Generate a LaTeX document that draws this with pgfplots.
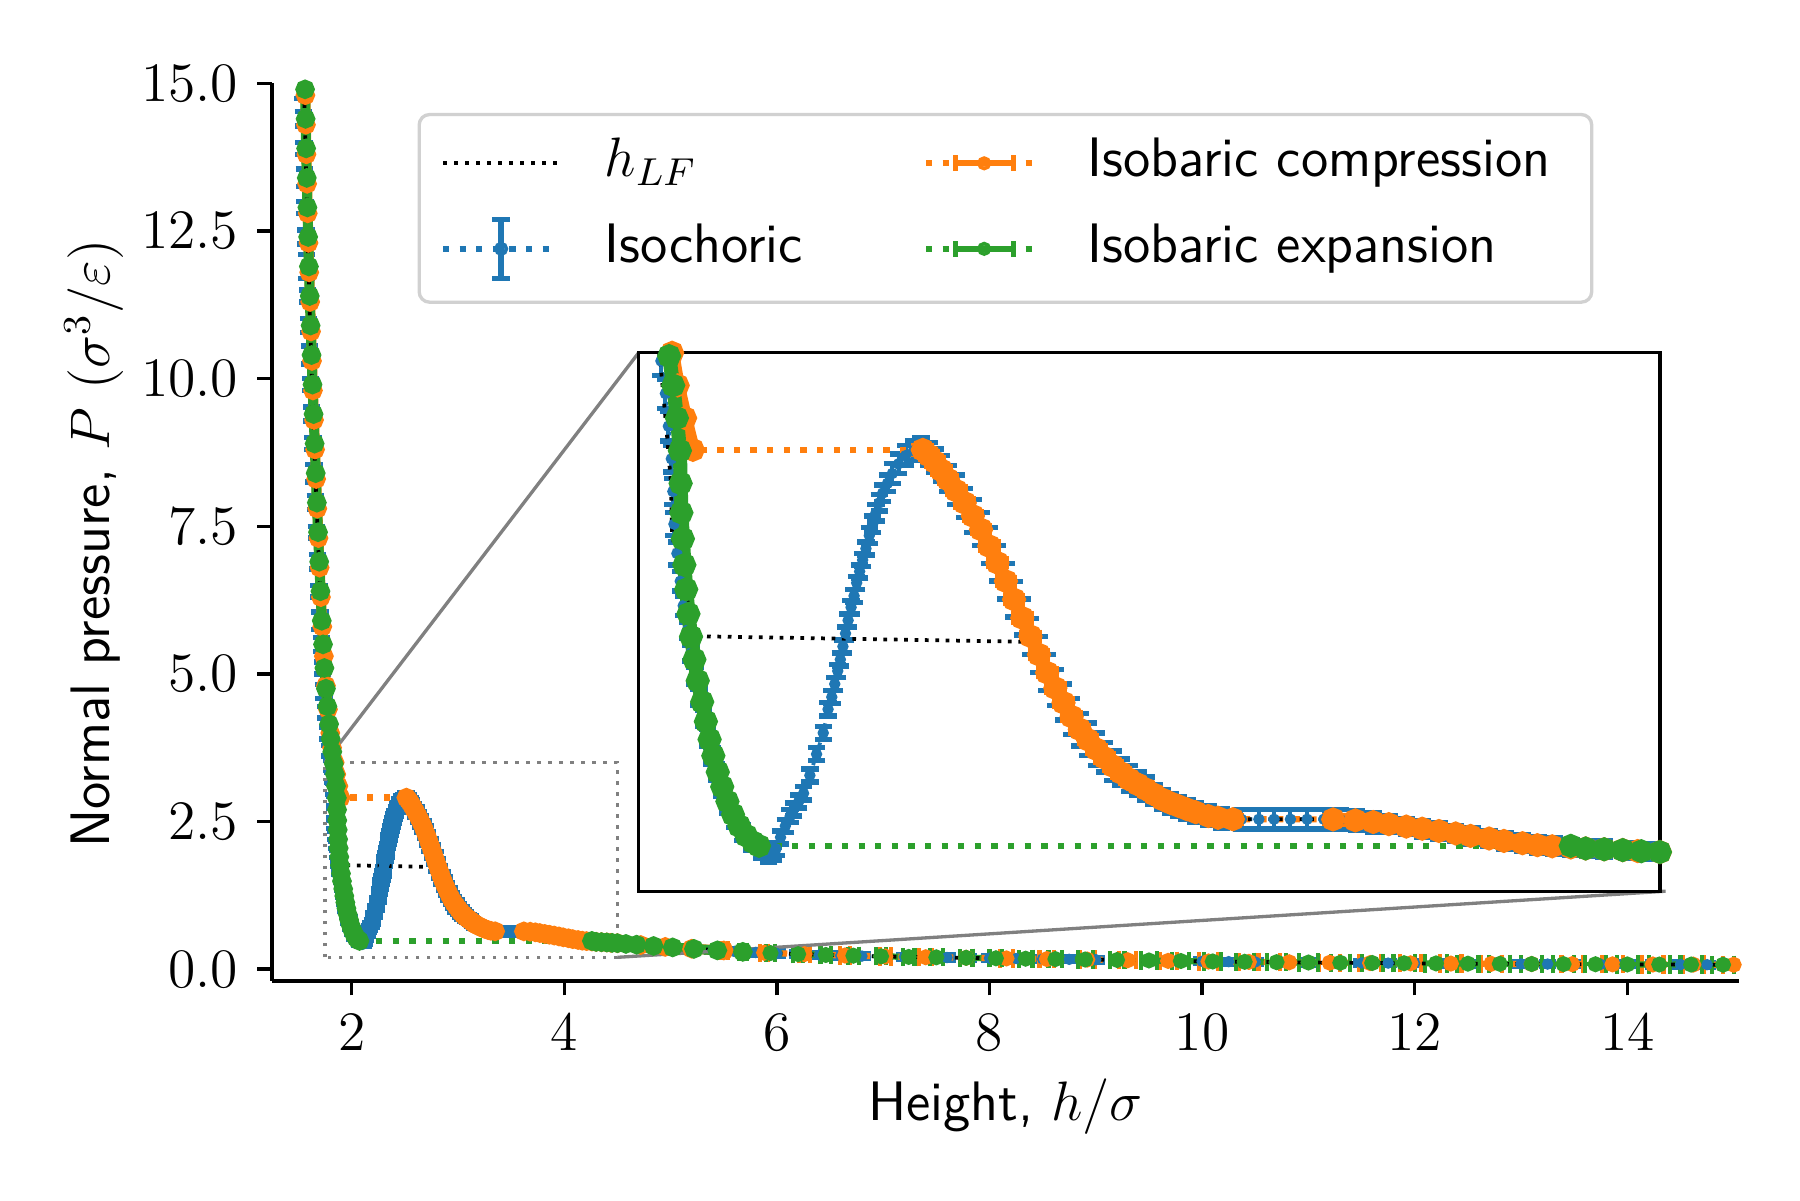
\RequirePackage{fix-cm}
\documentclass[border=0pt]{standalone}
\usepackage{pgfplots}
\pgfplotsset{compat=1.18}
\usepackage{pgfplotstable}
\definecolor{tabblue}{HTML}{1F77B4}
\definecolor{taborange}{HTML}{FF7F0E}
\definecolor{tabgreen}{HTML}{2CA02C}

% Isochoric (y errors)
\pgfplotstableread{
x y e
1.540 14.90 0.15
1.545 14.40 0.12
1.550 13.90 0.10
1.556 13.40 0.15
1.563 12.90 0.10
1.570 12.40 0.12
1.578 11.90 0.20
1.587 11.40 0.10
1.596 10.90 0.12
1.605 10.40 0.15
1.615 9.90 0.10
1.625 9.40 0.12
1.636 8.90 0.10
1.647 8.40 0.15
1.658 7.90 0.12
1.669 7.40 0.10
1.680 6.90 0.12
1.692 6.40 0.10
1.704 5.90 0.15
1.716 5.50 0.12
1.728 5.10 0.10
1.742 4.70 0.12
1.758 4.35 0.10
1.775 4.00 0.10
1.792 3.70 0.09
1.810 3.45 0.09
1.822 3.25 0.09
1.830 3.05 0.09
1.838 2.85 0.08
1.842 2.65 0.08
1.845 2.45 0.07
1.853 2.27 0.07
1.862 2.10 0.06
1.870 1.95 0.06
1.881 1.80 0.05
1.891 1.66 0.05
1.902 1.52 0.05
1.913 1.39 0.05
1.924 1.26 0.05
1.935 1.14 0.05
1.948 1.03 0.05
1.960 0.93 0.05
1.974 0.83 0.05
1.990 0.73 0.05
2.008 0.64 0.05
2.030 0.56 0.05
2.055 0.49 0.04
2.080 0.44 0.04
2.100 0.42 0.04
2.112 0.43 0.04
2.120 0.46 0.04
2.132 0.53 0.04
2.145 0.60 0.04
2.158 0.66 0.04
2.167 0.70 0.04
2.181 0.75 0.04
2.194 0.80 0.04
2.211 0.91 0.04
2.229 1.04 0.04
2.247 1.17 0.04
2.260 1.315 0.04
2.270 1.39 0.04
2.278 1.47 0.04
2.286 1.55 0.04
2.293 1.62 0.04
2.300 1.70 0.04
2.307 1.78 0.04
2.314 1.86 0.04
2.322 1.94 0.04
2.330 2.01 0.04
2.337 2.09 0.04
2.345 2.16 0.04
2.353 2.23 0.04
2.362 2.30 0.04
2.371 2.38 0.05
2.380 2.45 0.05
2.389 2.52 0.05
2.398 2.58 0.05
2.407 2.64 0.05
2.420 2.70 0.05
2.433 2.76 0.06
2.450 2.82 0.06
2.469 2.87 0.06
2.490 2.90 0.06
2.510 2.92 0.06
2.532 2.88 0.07
2.548 2.84 0.07
2.565 2.79 0.08
2.583 2.73 0.08
2.605 2.66 0.09
2.628 2.58 0.09
2.650 2.50 0.10
2.672 2.42 0.10
2.694 2.32 0.11
2.716 2.21 0.11
2.739 2.10 0.11
2.761 1.99 0.11
2.783 1.88 0.11
2.805 1.76 0.11
2.828 1.65 0.11
2.850 1.54 0.11
2.872 1.45 0.11
2.894 1.36 0.11
2.916 1.27 0.11
2.938 1.19 0.10
2.960 1.13 0.10
2.983 1.07 0.10
3.005 1.02 0.09
3.027 0.97 0.09
3.049 0.93 0.08
3.071 0.89 0.08
3.094 0.86 0.07
3.116 0.83 0.07
3.138 0.79 0.06
3.160 0.76 0.06
3.182 0.74 0.06
3.204 0.72 0.06
3.227 0.70 0.06
3.250 0.684 0.06
3.284 0.661 0.06
3.320 0.648 0.06
3.373 0.641 0.06
3.420 0.641 0.06
3.461 0.641 0.06
3.505 0.641 0.06
3.550 0.641 0.06
3.595 0.641 0.06
3.639 0.639 0.06
3.683 0.633 0.06
3.728 0.624 0.06
3.772 0.610 0.05
3.817 0.596 0.05
3.860 0.583 0.05
3.905 0.569 0.05
3.950 0.554 0.05
3.994 0.539 0.05
4.040 0.523 0.05
4.083 0.508 0.05
4.130 0.494 0.05
4.172 0.482 0.05
4.215 0.475 0.05
4.261 0.468 0.05
4.305 0.462 0.05
4.349 0.457 0.05
4.410 0.450 0.05
4.474 0.443 0.05
4.62 0.423 0.04
4.80 0.397 0.04
5.00 0.370 0.04
5.20 0.346 0.04
5.40 0.322 0.04
5.60 0.300 0.04
5.80 0.282 0.04
6.00 0.266 0.04
6.20 0.252 0.04
6.40 0.240 0.04
6.60 0.230 0.04
6.80 0.221 0.04
7.00 0.215 0.04
7.20 0.208 0.04
7.40 0.202 0.04
7.60 0.197 0.04
7.80 0.191 0.04
8.00 0.186 0.04
8.25 0.18 0.04
8.50 0.172 0.04
8.75 0.166 0.04
9.00 0.16 0.04
9.25 0.153 0.04
9.50 0.147 0.04
9.75 0.14 0.04
10.0 0.132 0.04
10.25 0.127 0.04
10.5 0.122 0.04
10.75 0.117 0.04
11.0 0.112 0.04
11.25 0.108 0.04
11.5 0.105 0.04
11.75 0.102 0.04
12.0 0.098 0.04
12.25 0.095 0.04
12.5 0.093 0.04
12.75 0.09 0.04
13.0 0.088 0.04
13.25 0.086 0.04
13.5 0.084 0.04
13.75 0.082 0.04
14.0 0.08 0.04
14.25 0.079 0.04
14.5 0.078 0.04
14.75 0.076 0.04
15.0 0.075 0.04
}\tabBlue

% Isobaric compression: tail (x errors)
\pgfplotstableread{
x y e
15.0 0.075 0.10
14.62 0.077 0.10
14.24 0.079 0.10
13.86 0.081 0.10
13.48 0.084 0.10
13.10 0.087 0.10
12.72 0.090 0.10
12.34 0.094 0.10
11.96 0.098 0.10
11.58 0.103 0.10
11.20 0.109 0.10
10.82 0.116 0.09
10.44 0.123 0.09
10.06 0.130 0.09
9.68 0.140 0.08
9.30 0.151 0.08
8.92 0.162 0.07
8.54 0.171 0.07
8.16 0.182 0.06
7.78 0.192 0.06
7.40 0.202 0.06
7.02 0.214 0.05
6.64 0.231 0.05
6.26 0.254 0.05
5.88 0.278 0.04
5.50 0.316 0.04
5.20 0.346 0.035
4.95 0.377 0.035
4.72 0.408 0.03
4.50 0.440 0.03
4.44 0.446 0.025
4.40 0.452 0.025
4.35 0.457 0.025
4.30 0.462 0.025
4.26 0.468 0.025
4.21 0.475 0.025
4.17 0.482 0.025
4.13 0.494 0.025
4.08 0.508 0.025
4.04 0.523 0.025
3.99 0.539 0.025
3.95 0.554 0.025
3.905 0.569 0.025
3.86 0.583 0.025
3.817 0.596 0.025
3.77 0.611 0.025
3.728 0.624 0.025
3.68 0.634 0.025
3.62 0.640 0.025
}\tabOBa

% Isobaric compression: descending branch up to the peak
\pgfplotstableread{
x y e
3.35 0.641 0.025
3.31 0.650 0.025
3.284 0.661 0.025
3.25 0.684 0.025
3.227 0.702 0.025
3.204 0.722 0.025
3.182 0.741 0.025
3.160 0.763 0.025
3.138 0.793 0.025
3.116 0.825 0.025
3.094 0.855 0.025
3.071 0.886 0.025
3.049 0.925 0.025
3.027 0.967 0.025
3.005 1.017 0.025
2.983 1.070 0.025
2.960 1.128 0.025
2.938 1.192 0.025
2.916 1.270 0.025
2.894 1.355 0.025
2.872 1.445 0.025
2.850 1.539 0.025
2.828 1.650 0.025
2.805 1.763 0.025
2.783 1.875 0.025
2.761 1.988 0.025
2.739 2.100 0.025
2.716 2.213 0.025
2.694 2.315 0.025
2.672 2.417 0.025
2.650 2.500 0.025
2.628 2.580 0.025
2.605 2.655 0.025
2.583 2.723 0.025
2.565 2.780 0.025
2.548 2.830 0.025
2.532 2.870 0.025
2.515 2.905 0.025
}\tabOBb

% Isobaric compression: dense branch after the jump
\pgfplotstableread{
x y e
1.896 2.905 0.015
1.875 3.10 0.015
1.855 3.30 0.015
1.840 3.50 0.015
1.816 3.75 0.012
1.799 4.00 0.012
1.777 4.40 0.012
1.758 4.80 0.012
1.739 5.30 0.012
1.724 5.80 0.012
1.711 6.30 0.012
1.699 6.80 0.012
1.688 7.30 0.012
1.677 7.80 0.012
1.666 8.30 0.012
1.656 8.80 0.012
1.646 9.30 0.012
1.636 9.80 0.012
1.627 10.30 0.012
1.618 10.80 0.012
1.610 11.30 0.012
1.601 11.80 0.012
1.594 12.30 0.012
1.587 12.80 0.012
1.581 13.30 0.012
1.575 13.80 0.012
1.570 14.30 0.012
1.565 14.80 0.012
}\tabOA

% Isobaric expansion: dense branch
\pgfplotstableread{
x y e
1.562 14.90 0.012
1.567 14.40 0.012
1.572 13.90 0.012
1.578 13.40 0.012
1.584 12.90 0.012
1.591 12.40 0.012
1.598 11.90 0.012
1.606 11.40 0.012
1.614 10.90 0.012
1.623 10.40 0.012
1.632 9.90 0.012
1.642 9.40 0.012
1.652 8.90 0.012
1.662 8.40 0.012
1.673 7.90 0.012
1.684 7.40 0.012
1.695 6.90 0.012
1.707 6.40 0.012
1.719 5.90 0.012
1.731 5.50 0.012
1.744 5.10 0.012
1.758 4.75 0.012
1.772 4.45 0.012
1.788 4.15 0.012
1.803 3.90 0.012
1.818 3.68 0.012
1.832 3.48 0.012
1.843 3.30 0.012
1.853 3.10 0.012
1.861 2.90 0.012
1.863 2.70 0.012
1.865 2.52 0.012
1.869 2.36 0.012
1.873 2.20 0.012
1.878 2.05 0.012
1.884 1.90 0.012
1.891 1.76 0.012
1.900 1.62 0.012
1.909 1.49 0.012
1.921 1.36 0.012
1.931 1.24 0.012
1.941 1.13 0.012
1.951 1.03 0.012
1.963 0.93 0.012
1.975 0.84 0.012
1.989 0.75 0.012
2.004 0.67 0.012
2.021 0.60 0.012
2.040 0.54 0.012
2.058 0.50 0.012
2.074 0.478 0.012
}\tabGA

% Isobaric expansion: gas branch after the jump
\pgfplotstableread{
x y e
4.26 0.478 0.03
4.30 0.462 0.03
4.35 0.457 0.03
4.40 0.452 0.03
4.45 0.445 0.03
4.50 0.440 0.03
4.58 0.427 0.03
4.68 0.414 0.03
4.84 0.392 0.035
5.02 0.368 0.035
5.22 0.343 0.04
5.44 0.318 0.04
5.68 0.293 0.04
5.94 0.272 0.045
6.20 0.254 0.045
6.46 0.240 0.05
6.72 0.228 0.05
6.98 0.217 0.05
7.24 0.207 0.055
7.50 0.200 0.06
7.78 0.192 0.06
8.06 0.184 0.06
8.34 0.177 0.065
8.62 0.170 0.065
8.90 0.163 0.07
9.20 0.155 0.07
9.50 0.147 0.075
9.80 0.138 0.08
10.1 0.130 0.08
10.4 0.124 0.085
10.7 0.118 0.09
11.0 0.112 0.09
11.3 0.108 0.09
11.6 0.104 0.10
11.9 0.100 0.10
12.2 0.097 0.10
12.5 0.093 0.10
12.8 0.090 0.10
13.1 0.087 0.10
13.4 0.085 0.10
13.7 0.083 0.10
14.0 0.080 0.10
14.3 0.078 0.10
14.6 0.077 0.10
14.9 0.075 0.10
}\tabGB

% h_LF
\pgfplotstableread{
x y
1.552 15.0
1.565 14.0
1.578 13.0
1.592 12.0
1.608 11.0
1.626 10.0
1.646 9.0
1.667 8.0
1.689 7.0
1.712 6.0
1.738 5.0
1.766 4.3
1.790 3.8
1.810 3.4
1.826 3.0
1.837 2.7
1.840 2.40
1.850 2.25
1.862 2.17
1.885 1.94
1.896 1.763
2.810 1.728
2.828 1.650
2.850 1.539
2.894 1.355
2.938 1.192
2.983 1.070
3.027 0.967
3.071 0.886
3.116 0.825
3.160 0.763
3.204 0.722
3.250 0.684
3.284 0.661
3.373 0.641
3.550 0.641
3.639 0.641
3.728 0.624
3.817 0.596
3.905 0.569
3.994 0.539
4.083 0.508
4.172 0.482
4.261 0.468
4.349 0.457
4.474 0.443
4.6 0.427
5.0 0.370
5.5 0.316
6.0 0.266
6.5 0.237
7.0 0.215
7.5 0.2
8.0 0.186
9.0 0.16
10.0 0.131
11.0 0.112
12.0 0.098
13.0 0.088
14.0 0.08
15.0 0.075
}\tabH

\pgfplotsset{
  yerrstyle/.style={error bars/y dir=both, error bars/y explicit,
    error bars/error bar style={line width=1pt, solid},
    error bars/error mark options={rotate=90, line width=1.3pt, mark size=2.1pt, solid}},
  xerrstyle/.style={error bars/x dir=both, error bars/x explicit,
    error bars/error bar style={line width=1pt, solid},
    error bars/error mark options={rotate=90, line width=1pt, mark size=#1, solid}},
  xerrstyle/.default=2pt,
  bandO/.style={taborange, line width=#1, mark=*, mark size=1.1pt, forget plot, xerrstyle=1.6pt},
  bandG/.style={tabgreen, line width=#1, mark=*, mark size=1.1pt, forget plot, xerrstyle=1.6pt},
  chainO/.style={taborange, line width=1.5pt, dash pattern=on 1.5pt off 2.5pt, mark=*, mark size=1.15pt, mark options={solid}, forget plot, xerrstyle=2.2pt},
  chainG/.style={tabgreen, line width=1.5pt, dash pattern=on 1.5pt off 2.5pt, mark=*, mark size=1.15pt, mark options={solid}, forget plot, xerrstyle=2.2pt},
  jump/.style={line width=1.5pt, dash pattern=on 1.5pt off 2.5pt, forget plot},
}

% #1: width of the dense (band-like) parts of the isobaric series
\newcommand{\plotdata}[1]{%
  \addplot[tabblue, line width=0.9pt, dash pattern=on 0.9pt off 1.5pt, mark=*, mark size=0.9pt, mark options={solid}, forget plot, yerrstyle]
    table[x=x, y=y, y error=e] {\tabBlue};
  \addplot[taborange, jump] coordinates {(3.62,0.640) (3.35,0.641)};
  \addplot[taborange, jump] coordinates {(2.515,2.905) (1.896,2.905)};
  \addplot[chainO, restrict x to domain=5.4:16] table[x=x, y=y, x error=e] {\tabOBa};
  \addplot[bandO=#1, restrict x to domain=0:5.6] table[x=x, y=y, x error=e] {\tabOBa};
  \addplot[bandO=#1] table[x=x, y=y, x error=e] {\tabOBb};
  \addplot[bandO=#1] table[x=x, y=y, x error=e] {\tabOA};
  \addplot[tabgreen, jump] coordinates {(2.074,0.478) (4.26,0.478)};
  \addplot[bandG=#1] table[x=x, y=y, x error=e] {\tabGA};
  \addplot[chainG, restrict x to domain=5.6:16] table[x=x, y=y, x error=e] {\tabGB};
  \addplot[bandG=#1, restrict x to domain=0:5.7] table[x=x, y=y, x error=e] {\tabGB};
  \addplot[black, line width=0.9pt, dash pattern=on 0.9pt off 1.6pt, forget plot]
    table[x=x, y=y] {\tabH};
}

\begin{document}
\fontsize{13.4}{16}\selectfont
\begin{tikzpicture}[font=\fontsize{13.4}{16}\selectfont]
\useasboundingbox (-65.5pt,-52.8pt) rectangle (368.1pt,236.3pt);
\begin{axis}[
  name=main,
  at={(0pt,0pt)}, anchor=south west,
  scale only axis, width=353.4pt, height=216.2pt,
  xmin=1.25, xmax=15.05, ymin=-0.2, ymax=15,
  axis x line*=bottom, axis y line*=left,
  axis line style={line width=0.8pt, -},
  xtick={2,4,...,14}, ytick={0,2.5,...,15},
  yticklabel style={/pgf/number format/.cd, fixed, fixed zerofill, precision=1},
  tick align=outside, major tick length=3.5pt,
  every tick/.style={line width=0.8pt, black},
  every axis x label/.style={at={(axis description cs:0.5,-0.1559)}, anchor=base},
  every axis y label/.style={at={(axis description cs:-0.1211,0.487)}, rotate=90, anchor=center},
  xlabel={\sffamily Height, $h/\sigma$},
  ylabel={\sffamily Normal pressure, $P$ $(\sigma^3/\varepsilon)$},
  legend style={
    at={(0.5,0.9672)}, anchor=north,
    legend columns=2,
    draw=black!18, line width=0.8pt, rounded corners=2.5pt,
    fill=white, fill opacity=0.8, text opacity=1, draw opacity=1,
    inner xsep=5pt, inner ysep=5pt,
    row sep=6pt,
    nodes={inner sep=0pt, text height=10pt, text depth=3.5pt},
    font=\sffamily\fontsize{13.4}{16}\selectfont,
    /tikz/every odd column/.append style={column sep=10.2pt},
    /tikz/every even column/.append style={column sep=29pt},
  },
  legend cell align=left,
]
\plotdata{2.4pt}
\draw[black!50, line width=0.8pt, dash pattern=on 0.8pt off 1.85pt] (axis cs:1.75,0.2) rectangle (axis cs:4.5,3.5);
\draw[black!50, line width=0.8pt] (axis cs:1.75,3.5) -- (rel axis cs:0.25,0.7);
\draw[black!50, line width=0.8pt] (axis cs:4.5,0.2) -- (rel axis cs:0.95,0.1);
\addlegendimage{legend image code/.code={
  \draw[black, line width=1pt, dash pattern=on 1pt off 1.65pt] (0pt,0pt) -- (28pt,0pt);}}
\addlegendentry{$h_{LF}$}
\addlegendimage{legend image code/.code={
  \draw[taborange, line width=1.5pt, dash pattern=on 1.5pt off 2.5pt] (0pt,0pt) -- (28pt,0pt);
  \draw[taborange, line width=1.5pt] (7pt,0pt) -- (21pt,0pt);
  \draw[taborange, line width=1.2pt] (7pt,-1.9pt) -- (7pt,1.9pt) (21pt,-1.9pt) -- (21pt,1.9pt);
  \fill[taborange] (14pt,0pt) circle (1.3pt);}}
\addlegendentry{Isobaric compression\hspace*{5pt}}
\addlegendimage{legend image code/.code={
  \draw[tabblue, line width=1.5pt, dash pattern=on 1.5pt off 2.5pt] (0pt,0pt) -- (28pt,0pt);
  \draw[tabblue, line width=1.5pt] (14pt,-7.1pt) -- (14pt,7.1pt);
  \draw[tabblue, line width=1.2pt] (11.9pt,-7.1pt) -- (16.1pt,-7.1pt) (11.9pt,7.1pt) -- (16.1pt,7.1pt);
  \fill[tabblue] (14pt,0pt) circle (1.3pt);}}
\addlegendentry{Isochoric}
\addlegendimage{legend image code/.code={
  \draw[tabgreen, line width=1.5pt, dash pattern=on 1.5pt off 2.5pt] (0pt,0pt) -- (28pt,0pt);
  \draw[tabgreen, line width=1.5pt] (7pt,0pt) -- (21pt,0pt);
  \draw[tabgreen, line width=1.2pt] (7pt,-1.9pt) -- (7pt,1.9pt) (21pt,-1.9pt) -- (21pt,1.9pt);
  \fill[tabgreen] (14pt,0pt) circle (1.3pt);}}
\addlegendentry{Isobaric expansion}
\end{axis}
\begin{axis}[
  name=inset,
  at={(88.35pt,21.62pt)}, anchor=south west,
  scale only axis, width=246pt, height=129.7pt,
  xmin=1.75, xmax=4.5, ymin=0.2, ymax=3.5,
  xtick=\empty, ytick=\empty,
  axis line style={line width=0.8pt},
  axis background/.style={fill=white},
]
\plotdata{3.4pt}
\end{axis}
\end{tikzpicture}
\end{document}
